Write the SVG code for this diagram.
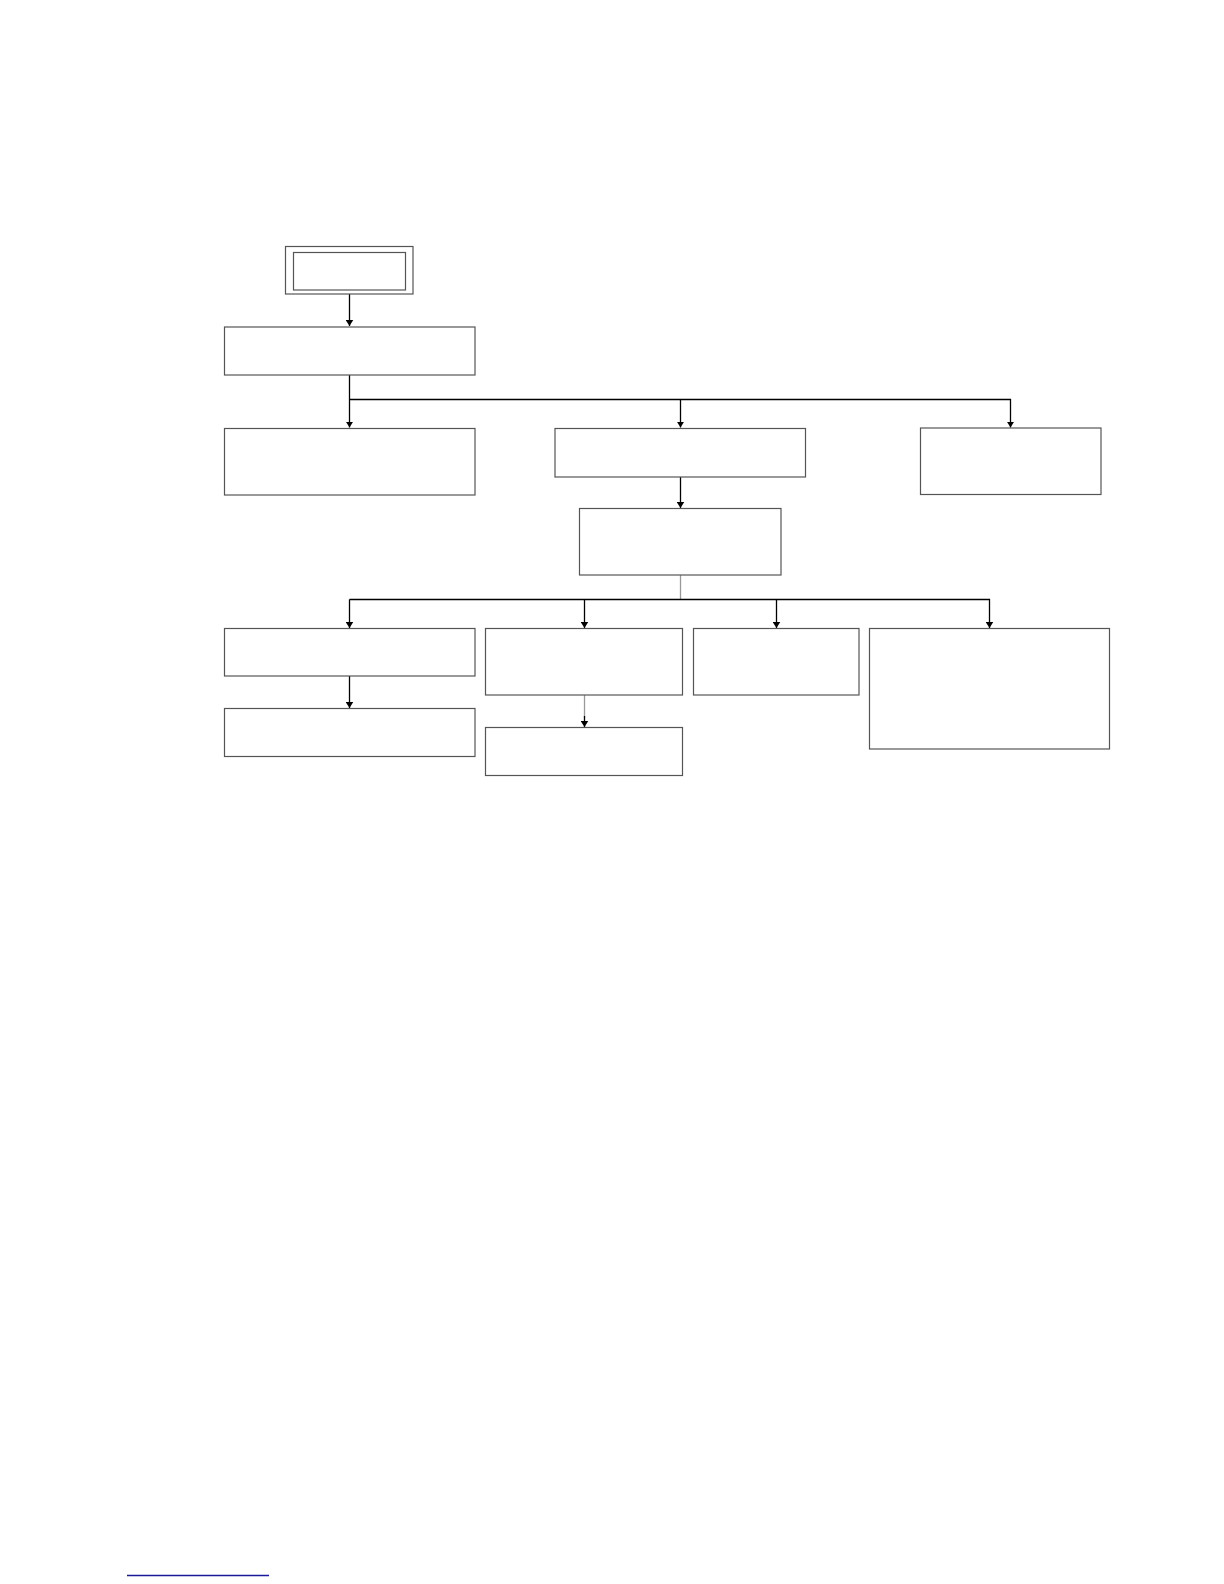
<svg xmlns="http://www.w3.org/2000/svg" width="1224" height="1584" viewBox="0 0 1224 1584">
<style>
.box{fill:#fff;stroke:#555;stroke-width:1.2}
.c{fill:none;stroke:#000;stroke-width:1.3}
.g{fill:none;stroke:#999;stroke-width:1.3}
</style>
<defs>
<marker id="ah" viewBox="0 0 8 10" refX="8" refY="5" markerWidth="6" markerHeight="8" markerUnits="userSpaceOnUse" orient="auto">
<path d="M0,0 L8,5 L0,10 z" fill="#000"/>
</marker>
</defs>
<rect width="1224" height="1584" fill="#fff"/>
<g id="connectors">
<path class="c" d="M349.5,294 V326" marker-end="url(#ah)"/>
<path class="c" d="M349.5,375 V427.5"  marker-end="url(#ah)"/>
<path class="c" d="M349.5,399.5 H1010.5 V427.5" marker-end="url(#ah)"/>
<path class="c" d="M680.5,399.5 V427.5" marker-end="url(#ah)"/>
<path class="c" d="M680.5,477 V508" marker-end="url(#ah)"/>
<path class="g" d="M680.5,575 V599.5"/>
<path class="c" d="M349.5,599.5 H989.5 V628" marker-end="url(#ah)"/>
<path class="c" d="M349.5,599.5 V628" marker-end="url(#ah)"/>
<path class="c" d="M584.5,599.5 V628" marker-end="url(#ah)"/>
<path class="c" d="M776.5,599.5 V628" marker-end="url(#ah)"/>
<path class="c" d="M349.5,676 V708" marker-end="url(#ah)"/>
<path class="g" d="M584.5,695 V718"/>
<path class="c" d="M584.5,716 V727" marker-end="url(#ah)"/>
</g>
<g id="start">
<rect class="box" x="285.5" y="246.5" width="127.5" height="47.5" stroke="#888"/>
<rect class="box" x="293.5" y="252.5" width="112" height="37.5"/>
</g>
<g id="nodeA"><rect class="box" x="224.5" y="327" width="250.5" height="48"/></g>
<g id="nodeB"><rect class="box" x="224.5" y="428.5" width="250.5" height="66.5"/></g>
<g id="nodeC"><rect class="box" x="555" y="428.5" width="250.5" height="48.5"/></g>
<g id="nodeE"><rect class="box" x="920.5" y="428" width="180.5" height="66.5"/></g>
<g id="nodeD"><rect class="box" x="579.5" y="508.5" width="201.5" height="66.5"/></g>
<g id="nodeF"><rect class="box" x="224.5" y="628.5" width="250.5" height="47.5"/></g>
<g id="nodeG"><rect class="box" x="224.5" y="708.5" width="250.5" height="48"/></g>
<g id="nodeH"><rect class="box" x="485.5" y="628.5" width="197" height="66.5"/></g>
<g id="nodeI"><rect class="box" x="485.5" y="727.5" width="197" height="48"/></g>
<g id="nodeJ"><rect class="box" x="693.5" y="628.5" width="165.5" height="66.5"/></g>
<g id="nodeK"><rect class="box" x="869.5" y="628.5" width="240" height="120.5"/></g>
<line x1="127" y1="1575.5" x2="269" y2="1575.5" stroke="#1a1a9a" stroke-width="1.5"/>
</svg>
